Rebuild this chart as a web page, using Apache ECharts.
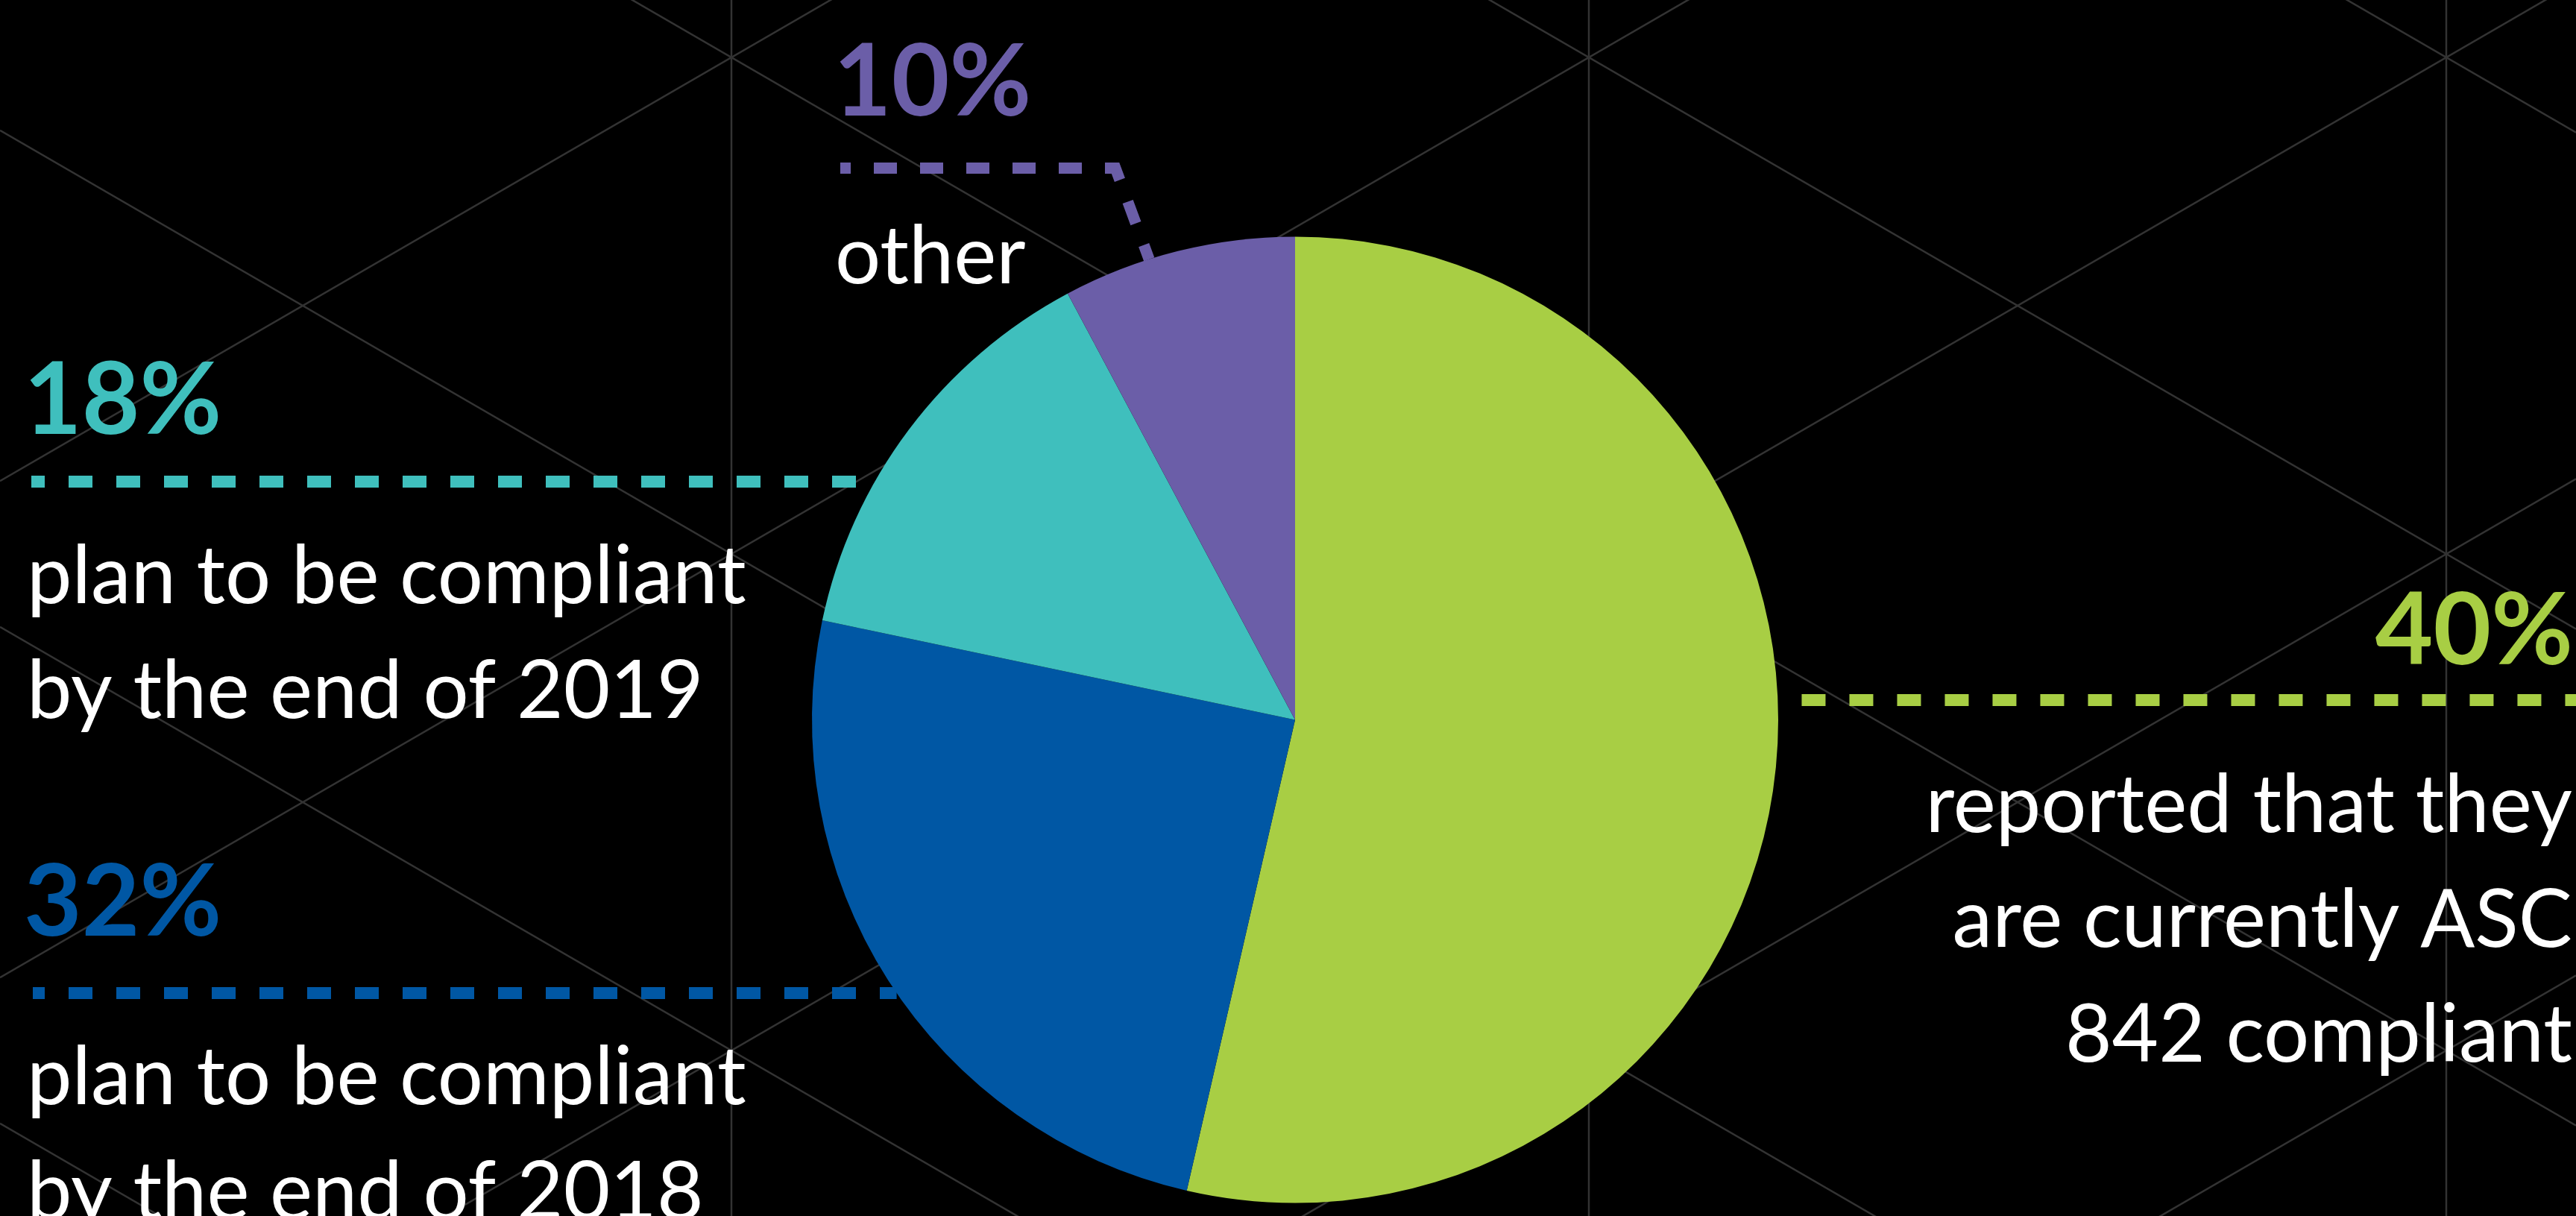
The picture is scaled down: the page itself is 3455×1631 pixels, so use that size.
<!DOCTYPE html>
<html>
<head>
<meta charset="utf-8">
<script src="https://cdn.jsdelivr.net/npm/echarts@6/dist/echarts.min.js"></script>
<style>
html,body{margin:0;padding:0;background:#000;}
#chart{width:3455px;height:1631px;}
</style>
</head>
<body>
<div id="chart"></div>
<script>
// ---- data ----
const categories = ['currently compliant', 'compliant by end of 2018', 'compliant by end of 2019', 'other'];
// angular share of each slice as drawn in the reference pie
const sliceShares = [53.6, 24.7, 13.9, 7.8];
// printed percentages in the annotations
const percentLabels = ['40%', '32%', '18%', '10%'];
const descGreen = ['reported that they', 'are currently ASC', '842 compliant'];
const descBlue = ['plan to be compliant', 'by the end of 2018'];
const descTeal = ['plan to be compliant', 'by the end of 2019'];
const descPurple = ['other'];

// ---- styles ----
const colors = ['#A8CE44', '#0057A4', '#3FBFBD', '#6B5EA8'];
const W = 3455, H = 1631;
const FONT = 'Lato, "Open Sans", sans-serif';

const chart = echarts.init(document.getElementById('chart'), null, {renderer: 'canvas', width: W, height: H});

chart.setOption({
  backgroundColor: '#000',
  animation: false,
  series: [{
    type: 'pie',
    z: 2,
    center: [1737, 965.5],
    radius: 648,
    startAngle: 90,
    clockwise: true,
    silent: true,
    label: {show: false},
    labelLine: {show: false},
    itemStyle: {borderWidth: 0},
    emphasis: {disabled: true},
    data: categories.map((c, i) => ({name: c, value: sliceShares[i], itemStyle: {color: colors[i]}}))
  }]
});

// pie geometry from the library's own layout
const pieData = chart.getModel().getSeriesByIndex(0).getData();
const lay = pieData.getItemLayout(0);
const cx = lay.cx, cy = lay.cy, R = lay.r;

function rimX(y, side) { // side -1 left, +1 right
  const dy = y - cy;
  return cx + side * Math.sqrt(Math.max(0, R * R - dy * dy));
}
function rimAlong(px, py, dx, dy) {
  const n = Math.hypot(dx, dy); dx /= n; dy /= n;
  const fx = px - cx, fy = py - cy;
  const b = fx * dx + fy * dy;
  const c = fx * fx + fy * fy - R * R;
  const t = -b - Math.sqrt(Math.max(0, b * b - c));
  return [px + dx * t, py + dy * t];
}

const elements = [];

// background triangular grid
const gx0 = 981, gy0 = 77, col = 575, row = 666;
const sl = (row / 2) / col;
const gridStyle = {stroke: '#333333', lineWidth: 2.5};
for (let k = -3; k <= 4; k++) {
  const x = gx0 + 2 * col * k;
  if (x < 0 || x > W) continue;
  elements.push({type: 'line', z: 0, silent: true, shape: {x1: x, y1: 0, x2: x, y2: H}, style: gridStyle});
}
for (let m = -6; m <= 7; m++) {
  const b = gy0 + row * m;
  elements.push({type: 'line', z: 0, silent: true,
    shape: {x1: 0, y1: b + sl * (0 - gx0), x2: W, y2: b + sl * (W - gx0)}, style: gridStyle});
  elements.push({type: 'line', z: 0, silent: true,
    shape: {x1: 0, y1: b - sl * (0 - gx0), x2: W, y2: b - sl * (W - gx0)}, style: gridStyle});
}

// leader lines
function dashLine(points, color, width, dash, offset) {
  elements.push({type: 'polyline', z: 1, silent: true, shape: {points: points},
    style: {stroke: color, lineWidth: width, lineDash: dash, lineDashOffset: offset, fill: null, lineCap: 'butt', lineJoin: 'miter'}});
}
// green (right)
dashLine([[rimX(939, 1), 939], [W, 939]], colors[0], 16, [32, 32], 32);
// blue
dashLine([[44, 1332], [rimX(1332, -1), 1332]], colors[1], 16, [32, 32], 16);
// teal
dashLine([[42, 646], [rimX(646, -1), 646]], colors[2], 16, [32, 32], 14);
// purple (horizontal then diagonal)
const pEnd = rimAlong(1496, 225.5, 0.37, 1);
dashLine([[1127, 225.5], [1496, 225.5], pEnd], colors[3], 15, [31, 31], 17);

// texts
function txt(str, x, baseline, size, weight, color, align, k) {
  elements.push({type: 'text', z: 5, silent: true,
    style: {text: str, x: x, y: baseline - k * size, font: weight + ' ' + size + 'px ' + FONT,
      fill: color, textAlign: align, textVerticalAlign: 'middle', align: align, verticalAlign: 'middle'}});
}
const PCT = 134, BODY = 108, KP = 0.315, KB = 0.26;
// purple
txt(percentLabels[3], 1118, 154, PCT, 'bold', colors[3], 'left', KP);
descPurple.forEach((s, i) => txt(s, 1120, 373 + i * 154, BODY, 'normal', '#ffffff', 'left', KB));
// teal
txt(percentLabels[2], 32, 581, PCT, 'bold', colors[2], 'left', KP);
descTeal.forEach((s, i) => txt(s, 36, 802 + i * 154, BODY, 'normal', '#ffffff', 'left', KB));
// blue
txt(percentLabels[1], 32, 1254, PCT, 'bold', colors[1], 'left', KP);
descBlue.forEach((s, i) => txt(s, 36, 1474 + i * 154, BODY, 'normal', '#ffffff', 'left', KB));
// green (right aligned)
txt(percentLabels[0], 3451, 890, PCT, 'bold', colors[0], 'right', KP);
descGreen.forEach((s, i) => txt(s, 3450, 1109 + i * 154, BODY, 'normal', '#ffffff', 'right', KB));

chart.setOption({graphic: {elements: elements}});
</script>
</body>
</html>
